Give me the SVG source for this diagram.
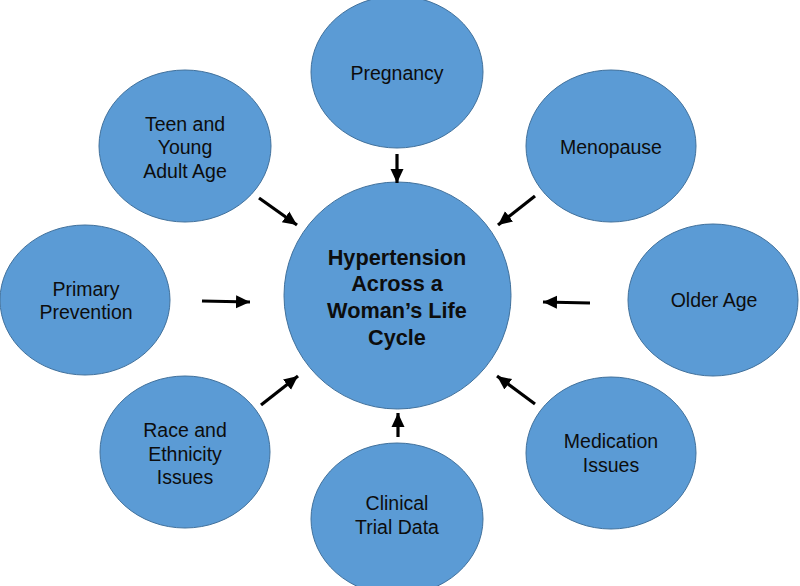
<svg xmlns="http://www.w3.org/2000/svg" width="800" height="586" viewBox="0 0 800 586">
<defs>
<style>
.n{fill:#5b9bd5;stroke:#41719c;stroke-width:1}
.t{font-family:"Liberation Sans",Arial,sans-serif;font-size:19.5px;fill:#0d0d0d;text-anchor:middle}
.b{font-family:"Liberation Sans",Arial,sans-serif;font-size:21.7px;font-weight:bold;fill:#0d0d0d;text-anchor:middle}
.c line{stroke:#000;stroke-width:3.2;marker-end:url(#ah)}
</style>
<marker id="ah" markerUnits="userSpaceOnUse" markerWidth="16" markerHeight="16" viewBox="0 0 16 16" refX="14" refY="8" orient="auto">
<path d="M0,1.5 L14,8 L0,14.5 Z" fill="#000"/>
</marker>
</defs>
<rect width="800" height="586" fill="#fff"/>
<g id="center"><circle class="n" cx="397.5" cy="295.5" r="113.5"/>
<text class="b"><tspan x="397" y="265">Hypertension</tspan><tspan x="397" y="291">Across a</tspan><tspan x="397" y="318">Woman’s Life</tspan><tspan x="397" y="345">Cycle</tspan></text></g>
<g id="pregnancy"><ellipse class="n" cx="397" cy="72" rx="86" ry="76"/><text class="t" x="397" y="80">Pregnancy</text></g>
<g id="teen"><ellipse class="n" cx="185" cy="146" rx="86" ry="76"/><text class="t"><tspan x="185" y="131">Teen and</tspan><tspan x="185" y="154">Young</tspan><tspan x="185" y="178">Adult Age</tspan></text></g>
<g id="menopause"><ellipse class="n" cx="611" cy="146" rx="85" ry="76"/><text class="t" x="611" y="154">Menopause</text></g>
<g id="primary"><ellipse class="n" cx="85" cy="300" rx="85" ry="75"/><text class="t"><tspan x="86" y="296">Primary</tspan><tspan x="86" y="319">Prevention</tspan></text></g>
<g id="older"><ellipse class="n" cx="713" cy="300" rx="85" ry="76"/><text class="t" x="714" y="307">Older Age</text></g>
<g id="race"><ellipse class="n" cx="185" cy="452" rx="85" ry="76"/><text class="t"><tspan x="185" y="437">Race and</tspan><tspan x="185" y="461">Ethnicity</tspan><tspan x="185" y="484">Issues</tspan></text></g>
<g id="medication"><ellipse class="n" cx="611" cy="453" rx="85" ry="76"/><text class="t"><tspan x="611" y="448">Medication</tspan><tspan x="611" y="472">Issues</tspan></text></g>
<g id="clinical"><ellipse class="n" cx="397" cy="519" rx="86" ry="76"/><text class="t"><tspan x="397" y="510">Clinical</tspan><tspan x="397" y="534">Trial Data</tspan></text></g>
<g id="connectors" class="c">
<line x1="397" y1="154" x2="397" y2="183"/>
<line x1="259" y1="198" x2="297" y2="225"/>
<line x1="535" y1="196" x2="498" y2="225"/>
<line x1="202" y1="301" x2="250" y2="302"/>
<line x1="590" y1="303" x2="543" y2="302"/>
<line x1="261" y1="405" x2="298" y2="376"/>
<line x1="535" y1="404" x2="497" y2="376"/>
<line x1="398" y1="437" x2="398" y2="413"/>
</g>
</svg>
